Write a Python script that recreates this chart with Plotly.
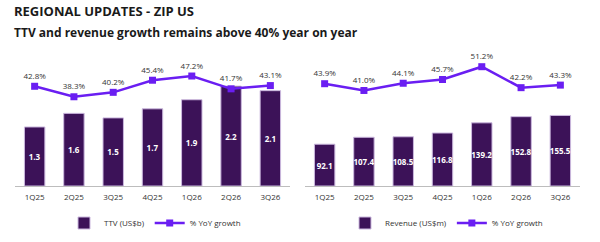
import plotly.graph_objects as go

quarters = ["1Q25", "2Q25", "3Q25", "4Q25", "1Q26", "2Q26", "3Q26"]
ttv = [1.3, 1.6, 1.5, 1.7, 1.9, 2.2, 2.1]
ttv_yoy = [42.8, 38.3, 40.2, 45.4, 47.2, 41.7, 43.1]
revenue = [92.1, 107.4, 108.5, 116.8, 139.2, 152.8, 155.5]
rev_yoy = [43.9, 41.0, 44.1, 45.7, 51.2, 42.2, 43.3]

BAR = "#3C1258"
LINE = "#6A1EF2"
FONT = "Open Sans"
W, H = 600, 242

def px_x(p):
    return p / W

def px_y(p):
    return 1 - p / H

ybot, ytop = 186, 56
ph = ybot - ytop

fig = go.Figure()

bar_style = dict(marker=dict(color=BAR, line=dict(color="#CBB8DE", width=1)),
                 textposition="inside", insidetextanchor="middle", textangle=0,
                 textfont=dict(color="white", size=8, family=FONT, weight="bold"),
                 width=0.52, hoverinfo="skip")
line_style = dict(mode="lines+markers+text",
                  line=dict(color=LINE, width=2.5), marker=dict(symbol="square", size=7, color=LINE),
                  textposition="top center", cliponaxis=False,
                  textfont=dict(color="#333333", size=8, family=FONT), hoverinfo="skip")

fig.add_trace(go.Bar(x=quarters, y=ttv, name="TTV (US$b)",
                     text=[f"{v:.1f}" for v in ttv],
                     xaxis="x", yaxis="y", legend="legend", **bar_style))
fig.add_trace(go.Scatter(x=quarters, y=ttv_yoy, name="% YoY growth",
                         text=[f"{v:.1f}%" for v in ttv_yoy],
                         xaxis="x", yaxis="y2", legend="legend", **line_style))
fig.add_trace(go.Bar(x=quarters, y=revenue, name="Revenue (US$m)",
                     text=[f"{v:.1f}" for v in revenue],
                     xaxis="x2", yaxis="y3", legend="legend2", **bar_style))
fig.add_trace(go.Scatter(x=quarters, y=rev_yoy, name="% YoY growth",
                         text=[f"{v:.1f}%" for v in rev_yoy],
                         xaxis="x2", yaxis="y4", legend="legend2", **line_style))

ydom = [px_y(ybot), px_y(ytop)]
xcommon = dict(type="category", range=[-0.5, 6.5], showgrid=False, showline=True,
               linecolor="#BDBDBD", linewidth=1, ticks="", zeroline=False,
               tickfont=dict(size=8, color="#333333", family=FONT), fixedrange=True,
               automargin=False, ticklabelstandoff=3)
ycommon = dict(domain=ydom, showgrid=False, showticklabels=False, zeroline=False,
               showline=False, ticks="", fixedrange=True, automargin=False)
legcommon = dict(orientation="h", yanchor="middle", xanchor="left",
                 font=dict(size=8, color="#333333", family=FONT), bgcolor="rgba(0,0,0,0)")

fig.update_layout(
    width=W, height=H, margin=dict(l=0, r=0, t=0, b=0, autoexpand=False),
    paper_bgcolor="white", plot_bgcolor="white",
    font=dict(family=FONT, color="#333333"),
    uniformtext=dict(minsize=8, mode="show"),
    xaxis=dict(domain=[px_x(15), px_x(290)], anchor="y", **xcommon),
    xaxis2=dict(domain=[px_x(305), px_x(580)], anchor="y3", **xcommon),
    yaxis=dict(range=[0, ph / 45.4], anchor="x", **ycommon),
    yaxis2=dict(range=[0, ph / 2.33], anchor="x", overlaying="y", **ycommon),
    yaxis3=dict(range=[0, ph / 0.4537], anchor="x2", **ycommon),
    yaxis4=dict(range=[0, ph / 2.33], anchor="x2", overlaying="y3", **ycommon),
    legend=dict(x=px_x(64), y=px_y(223), **legcommon),
    legend2=dict(x=px_x(345), y=px_y(223), **legcommon),
    annotations=[
        dict(text="<b>REGIONAL UPDATES - ZIP US</b>", x=px_x(12), y=px_y(11), xref="paper", yref="paper",
             xanchor="left", yanchor="middle", showarrow=False,
             font=dict(size=13, color="#1a1a1a", family=FONT)),
        dict(text="<b>TTV and revenue growth remains above 40% year on year</b>", x=px_x(12), y=px_y(32),
             xref="paper", yref="paper", xanchor="left", yanchor="middle", showarrow=False,
             font=dict(size=12, color="#1a1a1a", family=FONT)),
    ],
)

fig.write_html("out.html")
